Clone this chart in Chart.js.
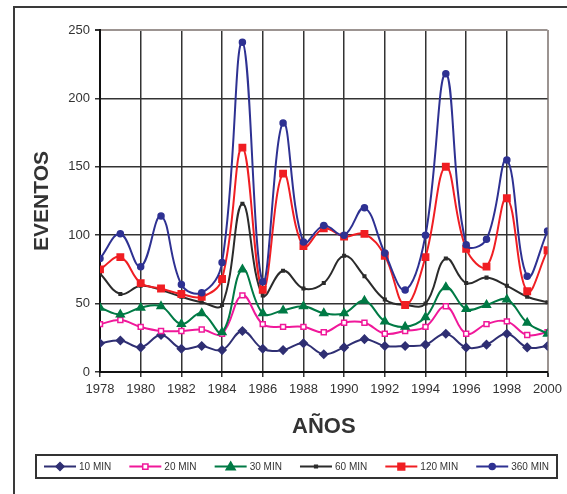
<!DOCTYPE html>
<html>
<head>
<meta charset="utf-8">
<script src="https://cdn.jsdelivr.net/npm/chart.js@4.4.1/dist/chart.umd.min.js"></script>
<style>
  html, body { margin: 0; padding: 0; background: #fff; }
  canvas { display: block; }
</style>
</head>
<body>
<canvas id="eventosChart" width="567" height="494"></canvas>
<script>
// data
var years = [1978, 1979, 1980, 1981, 1982, 1983, 1984, 1985, 1986, 1987, 1988,
             1989, 1990, 1991, 1992, 1993, 1994, 1995, 1996, 1997, 1998, 1999, 2000];
var min10  = [21, 23, 18, 27, 17, 19, 16, 30, 17, 16, 21, 13, 18, 24, 19, 19, 20, 28, 18, 20, 28, 18, 19];
var min20  = [35, 38, 33, 30, 30, 31, 28, 56, 35, 33, 33, 29, 36, 36, 28, 30, 33, 48, 28, 35, 37, 27, 29];
var min30  = [47, 42, 47, 48, 35, 43, 29, 75, 43, 45, 48, 43, 43, 52, 37, 33, 40, 62, 46, 49, 53, 36, 28];
var min60  = [72, 57, 63, 60, 55, 51, 49, 123, 56, 74, 61, 65, 85, 70, 53, 49, 50, 83, 65, 69, 63, 55, 51];
var min120 = [75, 84, 65, 61, 57, 55, 68, 164, 60, 145, 92, 105, 99, 101, 85, 49, 84, 150, 90, 77, 127, 59, 89];
var min360 = [83, 101, 77, 114, 64, 58, 80, 241, 66, 182, 95, 107, 100, 120, 87, 60, 100, 218, 93, 97, 155, 70, 103];
var seriesNames = ['10 MIN', '20 MIN', '30 MIN', '60 MIN', '120 MIN', '360 MIN'];
var yTicks = [0, 50, 100, 150, 200, 250];

var FONT = '"Liberation Sans", Arial, sans-serif';

function points(values) {
    return years.map(function (yr, i) { return { x: yr, y: values[i] }; });
}

function makeSeries(label, values, color, style, radius, fill, order) {
    return {
        label: label,
        data: points(values),
        borderColor: color,
        backgroundColor: color,
        borderWidth: 2,
        pointStyle: style,
        pointRadius: radius,
        pointHoverRadius: radius,
        pointBackgroundColor: fill,
        pointBorderColor: color,
        pointBorderWidth: 1.5,
        tension: 0.4,
        order: order
    };
}

// white background + outer frame
var framePlugin = {
    id: 'frame',
    beforeDraw: function (chart) {
        var ctx = chart.ctx;
        ctx.save();
        ctx.fillStyle = '#fff';
        ctx.fillRect(0, 0, chart.width, chart.height);
        ctx.strokeStyle = '#3a3a3a';
        ctx.lineWidth = 2;
        ctx.strokeRect(14, 7, 640, 640);
        ctx.restore();
    }
};

function drawMarker(ctx, style, x, y, r) {
    ctx.beginPath();
    if (style === 'rectRot') {
        ctx.moveTo(x, y - r); ctx.lineTo(x + r, y); ctx.lineTo(x, y + r); ctx.lineTo(x - r, y);
        ctx.closePath();
    } else if (style === 'rect') {
        ctx.rect(x - r * 0.75, y - r * 0.75, r * 1.5, r * 1.5);
    } else if (style === 'triangle') {
        ctx.moveTo(x, y - r); ctx.lineTo(x + r, y + r * 0.7); ctx.lineTo(x - r, y + r * 0.7);
        ctx.closePath();
    } else {
        ctx.arc(x, y, r, 0, Math.PI * 2);
    }
    ctx.fill();
    ctx.stroke();
}

// boxed legend below the axis title, Excel style (line + marker)
var legendPlugin = {
    id: 'boxLegend',
    afterDraw: function (chart) {
        var ctx = chart.ctx;
        var bx = 36, by = 455, bw = 521, bh = 23;
        var cy = by + bh / 2;
        ctx.save();
        ctx.strokeStyle = '#333';
        ctx.lineWidth = 2;
        ctx.strokeRect(bx, by, bw, bh);

        ctx.font = '10px ' + FONT;
        ctx.textBaseline = 'middle';
        var sets = chart.data.datasets;
        var lineLen = 32, textGap = 3, margin = 8;
        var widths = sets.map(function (ds) { return ctx.measureText(ds.label).width; });
        var used = widths.reduce(function (a, w) { return a + lineLen + textGap + w; }, 0);
        var gap = (bw - 2 * margin - used) / (sets.length - 1);
        var x = bx + margin;
        sets.forEach(function (ds, i) {
            ctx.strokeStyle = ds.borderColor;
            ctx.lineWidth = 2;
            ctx.beginPath();
            ctx.moveTo(x, cy);
            ctx.lineTo(x + lineLen, cy);
            ctx.stroke();
            ctx.fillStyle = ds.pointBackgroundColor;
            ctx.lineWidth = 1.5;
            drawMarker(ctx, ds.pointStyle, x + lineLen / 2, cy, ds.pointRadius);
            ctx.fillStyle = '#333';
            ctx.fillText(ds.label, x + lineLen + textGap, cy + 0.5);
            x += lineLen + textGap + widths[i] + gap;
        });
        ctx.restore();
    }
};

var eventosCtx = document.getElementById('eventosChart').getContext('2d');

var eventosChart = new Chart(eventosCtx, {
    type: 'line',
    data: {
        datasets: [
            makeSeries(seriesNames[0], min10,  '#2f2f73', 'rectRot', 4,   '#2f2f73', 5),
            makeSeries(seriesNames[1], min20,  '#f0189a', 'rect',    3.5, '#ffffff', 4),
            makeSeries(seriesNames[2], min30,  '#007a45', 'triangle', 4.5, '#007a45', 3),
            makeSeries(seriesNames[3], min60,  '#2b2b2b', 'rect',    1.8, '#2b2b2b', 2),
            makeSeries(seriesNames[4], min120, '#f01e23', 'rect',    4.5, '#f01e23', 1),
            makeSeries(seriesNames[5], min360, '#2e3192', 'circle',  3,   '#2e3192', 0)
        ]
    },
    options: {
        responsive: false,
        animation: false,
        layout: { padding: { left: 0, top: 30, right: 18, bottom: 54 } },
        plugins: {
            legend: { display: false },
            tooltip: { enabled: false }
        },
        scales: {
            x: {
                type: 'linear',
                min: years[0],
                max: years[years.length - 1],
                afterFit: function (scale) { scale.height = 68; },
                ticks: {
                    stepSize: 2,
                    padding: 5,
                    color: '#333',
                    font: { family: FONT, size: 13 },
                    callback: function (v) { return String(v); }
                },
                grid: {
                    color: function (c) { return c.tick && c.tick.value === 2000 ? '#9c9491' : '#333'; },
                    lineWidth: function (c) { return c.tick && c.tick.value === 2000 ? 2 : 1.5; },
                    tickColor: '#333',
                    tickLength: 5
                },
                border: { color: '#111', width: 2 },
                title: {
                    display: true,
                    text: 'AÑOS',
                    color: '#333',
                    font: { family: FONT, size: 22, weight: 'bold' },
                    padding: { top: 0, bottom: 0 }
                }
            },
            y: {
                min: yTicks[0],
                max: yTicks[yTicks.length - 1],
                afterFit: function (scale) { scale.width = 100; },
                afterBuildTicks: function (scale) {
                    scale.ticks = yTicks.map(function (v) { return { value: v }; });
                },
                ticks: {
                    padding: 5,
                    color: '#333',
                    font: { family: FONT, size: 13 }
                },
                grid: {
                    color: function (c) { return c.tick && c.tick.value === 250 ? '#9c9491' : '#333'; },
                    lineWidth: function (c) { return c.tick && c.tick.value === 250 ? 2 : 1.5; },
                    tickColor: '#333',
                    tickLength: 5
                },
                border: { color: '#111', width: 2 },
                title: {
                    display: true,
                    text: 'EVENTOS',
                    color: '#333',
                    font: { family: FONT, size: 21, weight: 'bold' },
                    padding: { top: 30, bottom: 0 }
                }
            }
        }
    },
    plugins: [framePlugin, legendPlugin]
});
</script>
</body>
</html>
